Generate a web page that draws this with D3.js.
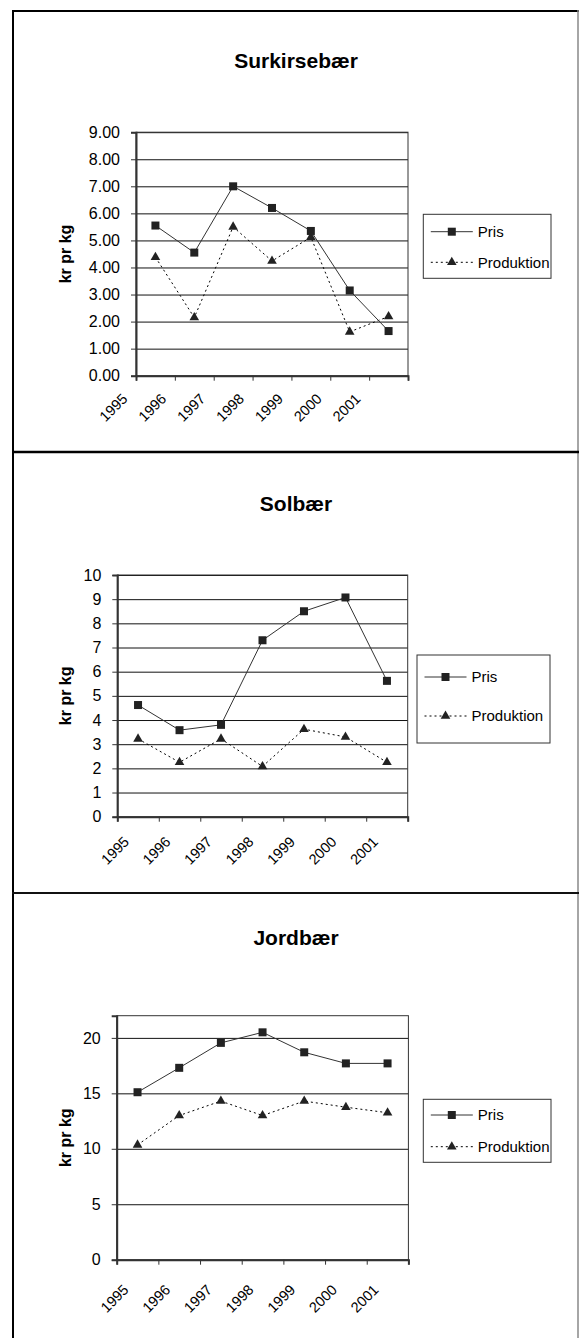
<!DOCTYPE html>
<html>
<head>
<meta charset="utf-8">
<script src="https://cdn.jsdelivr.net/npm/d3@7"></script>
<style>
	body { margin: 0; background: #fff; }
	svg { display: block; font-family: Arial, "Liberation Sans", sans-serif; }
</style>
</head>
<body>
<svg id="chart" width="579" height="1338"></svg>
<script>
// data
const years = ["1995", "1996", "1997", "1998", "1999", "2000", "2001"];
const series_names = ["Pris", "Produktion"];
const panel_titles = ["Surkirsebær", "Solbær", "Jordbær"];
const axis_title = "kr pr kg";

const surkirsebaer_pris = [5.55, 4.55, 7.00, 6.20, 5.35, 3.15, 1.65];
const surkirsebaer_produktion = [4.38, 2.15, 5.50, 4.24, 5.12, 1.62, 2.19];
const solbaer_pris = [4.62, 3.58, 3.80, 7.30, 8.50, 9.07, 5.62];
const solbaer_produktion = [3.22, 2.25, 3.22, 2.08, 3.62, 3.30, 2.25];
const jordbaer_pris = [15.1, 17.3, 19.55, 20.5, 18.7, 17.7, 17.7];
const jordbaer_produktion = [10.35, 13.0, 14.3, 13.0, 14.3, 13.75, 13.25];

const surkirsebaer_ticks = [0, 1, 2, 3, 4, 5, 6, 7, 8, 9];
const solbaer_ticks = [0, 1, 2, 3, 4, 5, 6, 7, 8, 9, 10];
const jordbaer_ticks = [0, 5, 10, 15, 20];

// where each panel sits on the page
const layout = [
	{ plot: [136, 132.2, 408, 375.7], title_y: 68, legend: [423.3, 214.3, 127.7, 64], rows: [231.7, 262.3],
		y_max: 9, fmt: ".2f", label_dx: -27, label_dy: 24 },
	{ plot: [117.3, 575, 407.7, 816.7], title_y: 511, legend: [417, 655, 133, 88], rows: [677, 716],
		y_max: 10, fmt: "d", label_dx: -8, label_dy: 26 },
	{ plot: [116.7, 1015.7, 408.4, 1259.7], title_y: 945, legend: [423.3, 1099.3, 127.7, 63], rows: [1115, 1146.7],
		y_max: 22, fmt: "d", label_dx: -8, label_dy: 31 }
];

const INK = "#222";
const FONT = "Arial, 'Liberation Sans', sans-serif";

class LinePanel {
	makeLegend(g, box, rows) {
		const legend = g.append("g").attr("class", "legend");
		legend.append("rect")
			.attr("x", box[0])
			.attr("y", box[1])
			.attr("width", box[2])
			.attr("height", box[3])
			.style("fill", "#fff")
			.style("stroke", "#333")
			.style("stroke-width", "1px");

		const x0 = box[0] + 7.5, x1 = box[0] + 49.5;
		series_names.forEach((name, i) => {
			const y = rows[i];
			legend.append("line")
				.attr("x1", x0).attr("x2", x1)
				.attr("y1", y).attr("y2", y)
				.style("stroke", i === 0 ? "#333" : "#000")
				.style("stroke-width", "1px")
				.style("stroke-dasharray", i === 0 ? null : "2,3");
			this.drawMarker(legend, i, (x0 + x1) / 2, y);
			legend.append("text")
				.attr("x", box[0] + 54.5)
				.attr("y", y)
				.attr("dy", "0.35em")
				.style("font-size", "15px")
				.style("fill", "#000")
				.text(name);
		});
	}

	drawMarker(g, kind, x, y) {
		if (kind === 0) {
			g.append("rect")
				.attr("x", x - 4).attr("y", y - 4)
				.attr("width", 8).attr("height", 8)
				.style("fill", INK);
		} else {
			g.append("path")
				.attr("d", d3.symbol(d3.symbolTriangle, 40)())
				.attr("transform", "translate(" + x + "," + y + ")")
				.style("fill", INK);
		}
	}

	constructor(svg, lay, title, ticks, pris, produktion) {
		const [left, top, right, bottom] = lay.plot;
		const g = svg.append("g");

		const x = d3.scaleBand()
			.domain(years)
			.range([left, right]);
		const x_edges = d3.scaleLinear()
			.domain([0, years.length])
			.range([left, right]);
		const y = d3.scaleLinear()
			.domain([0, lay.y_max])
			.range([bottom, top]);

		// gridlines
		g.append("g")
			.attr("transform", "translate(" + left + ",0)")
			.call(d3.axisLeft(y).tickValues(ticks.filter(t => t > 0)).tickSize(-(right - left)).tickFormat(""))
			.call(s => s.select(".domain").remove())
			.call(s => s.selectAll("line").style("stroke", "#111").style("stroke-width", "1px"));

		// plot area border
		g.append("rect")
			.attr("x", left).attr("y", top)
			.attr("width", right - left).attr("height", bottom - top)
			.style("fill", "none")
			.style("stroke", "#333")
			.style("stroke-width", "1px");

		// y axis
		g.append("g")
			.attr("transform", "translate(" + left + ",0)")
			.call(d3.axisLeft(y).tickValues(ticks).tickSize(5).tickPadding(11).tickFormat(d3.format(lay.fmt)))
			.call(s => s.select(".domain").style("stroke", "#333").style("stroke-width", "2px"))
			.call(s => s.selectAll("line").style("stroke", "#333"))
			.call(s => s.selectAll("text").style("font-size", "16px").style("fill", "#000").style("font-family", FONT));

		// x axis, ticks on category edges
		g.append("g")
			.attr("transform", "translate(0," + bottom + ")")
			.call(d3.axisBottom(x_edges).tickValues(d3.range(years.length + 1)).tickSize(5).tickFormat(""))
			.call(s => s.select(".domain").style("stroke", "#333").style("stroke-width", "2px"))
			.call(s => s.selectAll("line").style("stroke", "#333"));

		g.append("g").selectAll("text")
			.data(years)
			.enter()
			.append("text")
				.attr("transform", d => "translate(" + (x(d) + x.bandwidth() / 2 + lay.label_dx) + "," + (bottom + lay.label_dy) + ") rotate(-45)")
				.attr("text-anchor", "end")
				.style("font-size", "14.5px")
				.style("fill", "#000")
				.text(d => d);

		// series
		const cx = d => x(d) + x.bandwidth() / 2;
		const line = d3.line()
			.x((d, i) => cx(years[i]))
			.y(d => y(d));

		g.append("path")
			.datum(produktion)
			.attr("d", line)
			.style("fill", "none")
			.style("stroke", "#000")
			.style("stroke-width", "1px")
			.style("stroke-dasharray", "2,3");
		g.append("path")
			.datum(pris)
			.attr("d", line)
			.style("fill", "none")
			.style("stroke", "#333")
			.style("stroke-width", "1px");

		produktion.forEach((v, i) => this.drawMarker(g, 1, cx(years[i]), y(v)));
		pris.forEach((v, i) => this.drawMarker(g, 0, cx(years[i]), y(v)));

		// axis title
		g.append("text")
			.attr("transform", "translate(71," + (top + bottom) / 2 + ") rotate(-90)")
			.attr("text-anchor", "middle")
			.style("font-size", "16px")
			.style("font-weight", "bold")
			.style("fill", "#000")
			.text(axis_title);

		g.append("text")
			.attr("x", 296)
			.attr("y", lay.title_y)
			.attr("text-anchor", "middle")
			.style("font-size", "21px")
			.style("font-weight", "bold")
			.style("fill", "#000")
			.text(title);

		this.makeLegend(g, lay.legend, lay.rows);
	}
}

function whenDocumentLoaded(action) {
	if (document.readyState === "loading") {
		document.addEventListener("DOMContentLoaded", action);
	} else {
		action();
	}
}

whenDocumentLoaded(() => {
	const svg = d3.select("#chart");

	// outer frame and panel separators
	const frame = svg.append("g");
	frame.append("line").attr("x1", 13).attr("x2", 13).attr("y1", 10).attr("y2", 1338)
		.style("stroke", "#000").style("stroke-width", "2px");
	frame.append("line").attr("x1", 12).attr("x2", 579).attr("y1", 11).attr("y2", 11)
		.style("stroke", "#000").style("stroke-width", "2px");
	frame.append("line").attr("x1", 578).attr("x2", 578).attr("y1", 10).attr("y2", 1338)
		.style("stroke", "#888").style("stroke-width", "1.5px");
	frame.append("line").attr("x1", 12).attr("x2", 579).attr("y1", 452).attr("y2", 452)
		.style("stroke", "#000").style("stroke-width", "2.5px");
	frame.append("line").attr("x1", 12).attr("x2", 579).attr("y1", 893).attr("y2", 893)
		.style("stroke", "#111").style("stroke-width", "2px");

	new LinePanel(svg, layout[0], panel_titles[0], surkirsebaer_ticks, surkirsebaer_pris, surkirsebaer_produktion);
	new LinePanel(svg, layout[1], panel_titles[1], solbaer_ticks, solbaer_pris, solbaer_produktion);
	new LinePanel(svg, layout[2], panel_titles[2], jordbaer_ticks, jordbaer_pris, jordbaer_produktion);
});
</script>
</body>
</html>
